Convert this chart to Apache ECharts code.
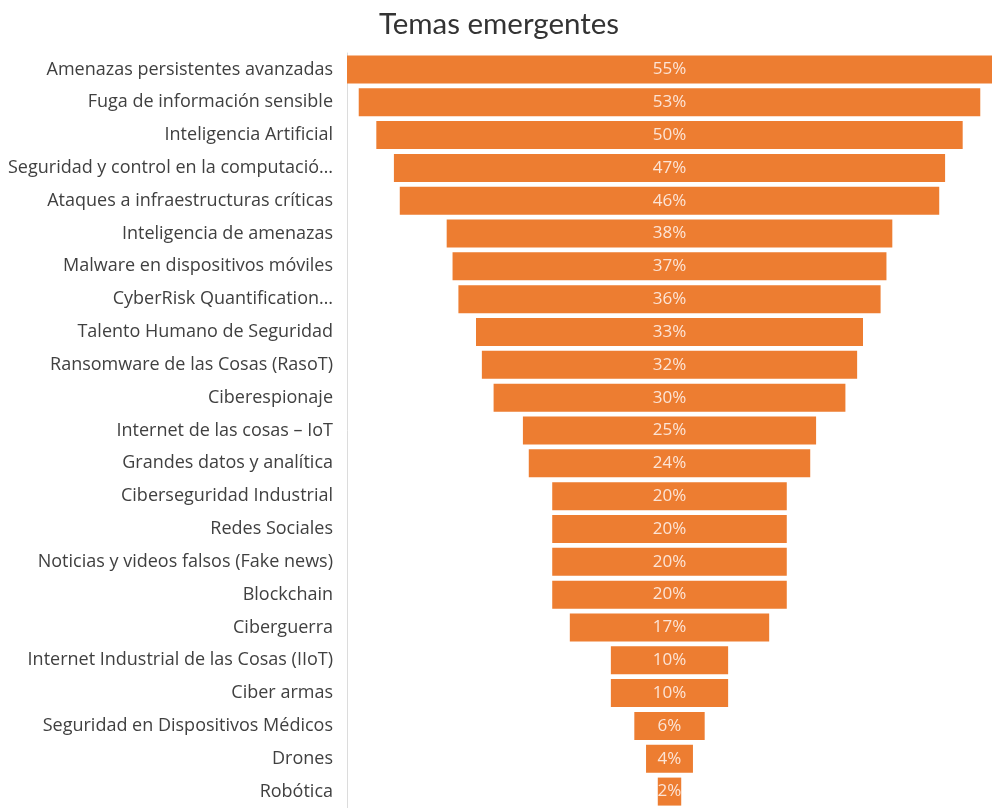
<!DOCTYPE html>
<html>
<head>
<meta charset="utf-8">
<script src="https://cdn.jsdelivr.net/npm/echarts@6/dist/echarts.min.js"></script>
<style>
  html, body { margin: 0; padding: 0; background: #ffffff; }
  #chart { width: 993px; height: 808px; }
</style>
</head>
<body>
<div id="chart"></div>
<script>
// Emerging topics, share of respondents (%)
const categories = [
  'Amenazas persistentes avanzadas',
  'Fuga de información sensible',
  'Inteligencia Artificial',
  'Seguridad y control en la computació…',
  'Ataques a infraestructuras críticas',
  'Inteligencia de amenazas',
  'Malware en dispositivos móviles',
  'CyberRisk Quantification…',
  'Talento Humano de Seguridad',
  'Ransomware de las Cosas (RasoT)',
  'Ciberespionaje',
  'Internet de las cosas – IoT',
  'Grandes datos y analítica',
  'Ciberseguridad Industrial',
  'Redes Sociales',
  'Noticias y videos falsos (Fake news)',
  'Blockchain',
  'Ciberguerra',
  'Internet Industrial de las Cosas (IIoT)',
  'Ciber armas',
  'Seguridad en Dispositivos Médicos',
  'Drones',
  'Robótica'
];
const values = [55, 53, 50, 47, 46, 38, 37, 36, 33, 32, 30, 25, 24, 20, 20, 20, 20, 17, 10, 10, 6, 4, 2];

const maxValue = Math.max(...values);
// transparent spacer so each bar sits centred on the widest one
const spacer = values.map(v => (maxValue - v) / 2);

const chart = echarts.init(document.getElementById('chart'));
chart.setOption({
  animation: false,
  title: {
    text: 'Temas emergentes',
    left: 494,
    textAlign: 'center',
    top: 4,
    textStyle: { fontFamily: 'Lato', fontSize: 29.5, fontWeight: 'normal', color: '#333333' }
  },
  grid: { left: 347, top: 53, width: 645, height: 759, containLabel: false },
  xAxis: {
    type: 'value', min: 0, max: maxValue,
    show: false
  },
  yAxis: {
    type: 'category',
    inverse: true,
    data: categories,
    axisLine: { show: true, lineStyle: { color: '#dcdcdc', width: 1 } },
    axisTick: { show: false },
    axisLabel: { fontFamily: 'Open Sans', fontSize: 18, color: '#404040', margin: 14 }
  },
  series: [
    {
      type: 'bar', stack: 'f', data: spacer, barWidth: 28,
      itemStyle: { color: 'transparent' }, silent: true
    },
    {
      type: 'bar', stack: 'f', data: values, barWidth: 28,
      itemStyle: { color: '#ED7D31' },
      label: {
        show: true, position: 'inside', formatter: '{c}%',
        fontFamily: 'Open Sans', fontSize: 17, color: '#FCE4D6'
      }
    }
  ]
});
</script>
</body>
</html>
